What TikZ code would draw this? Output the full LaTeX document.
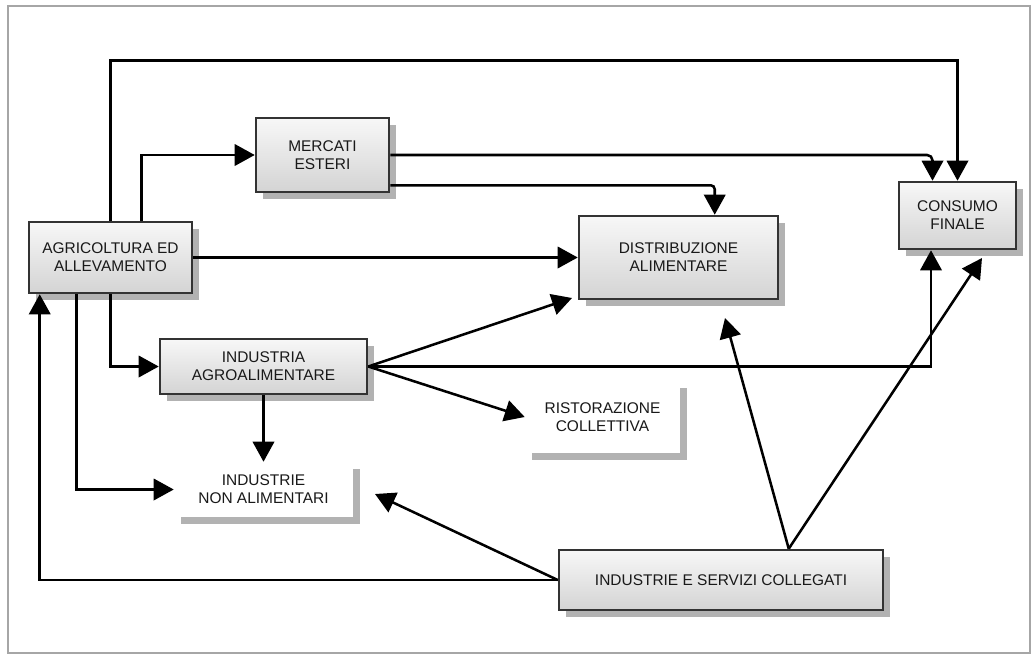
\documentclass[tikz,border=0pt]{standalone}
\usepackage{fontspec}
\setmainfont{Liberation Sans}
\usetikzlibrary{arrows.meta,shadows,calc}
\newcommand\labelfont{\fontsize{11.6}{13.5}\selectfont}
\begin{document}
\begin{tikzpicture}[x=0.75pt,y=-0.75pt,
  shade/.style={drop shadow={shadow xshift=5pt,shadow yshift=-5pt,fill=black!30,opacity=1}},
  box/.style={shade,draw=black!80,line width=1.9pt,top color=black!3,bottom color=black!17,
    inner sep=0pt,align=center,text=black!90,font=\labelfont},
  openbox/.style={shade,fill=white,inner sep=0pt,align=center,text=black!90,font=\labelfont},
  link/.style={line width=1.9pt,black},
  flow/.style={link,-{Triangle[length=15pt,width=16pt]}}]
\useasboundingbox (0,0) rectangle (1036,657);
\draw[black!35,line width=1.5pt] (8,6) rectangle (1030,653);

% blocks
\node[box,minimum width=163*0.75pt,minimum height=71*0.75pt] (agri) at (110.5,257.5) {AGRICOLTURA ED\\ALLEVAMENTO};
\node[box,minimum width=133*0.75pt,minimum height=74*0.75pt] (merc) at (322.5,155) {MERCATI\\ESTERI};
\node[box,minimum width=199*0.75pt,minimum height=83*0.75pt] (dist) at (678.5,257.5) {DISTRIBUZIONE\\ALIMENTARE};
\node[box,minimum width=117*0.75pt,minimum height=67*0.75pt] (cons) at (957.5,215.5) {CONSUMO\\FINALE};
\node[box,minimum width=207*0.75pt,minimum height=55*0.75pt] (agro) at (263.5,366.5) {INDUSTRIA\\AGROALIMENTARE};
\node[openbox,minimum width=179*0.75pt,minimum height=55*0.75pt] (nonal) at (263.5,489.5) {INDUSTRIE\\NON ALIMENTARI};
\node[openbox,minimum width=155*0.75pt,minimum height=72*0.75pt] (rist) at (602.5,417) {RISTORAZIONE\\COLLETTIVA};
\node[box,minimum width=324*0.75pt,minimum height=60*0.75pt] (serv) at (721,580) {INDUSTRIE E SERVIZI COLLEGATI};

% free ends of the slanted arrows
\coordinate (dA) at (572,298);
\coordinate (dB) at (725,318);
\coordinate (cB) at (982,258);
\coordinate (nA) at (375,494);

% connectors
\draw[flow] (agri.north) -- ++(0,-160) -| (cons.north);
\draw[flow] ($(agri.north west)+(114,0)$) |- (merc.west);
\draw[flow,rounded corners=4pt] (merc.east) -| ($(cons.north)+(-25,0)$);
\draw[flow,rounded corners=3pt] ($(merc.south east)+(0,-8)$) -| ($(dist.north west)+(137,0)$);
\draw[flow] (agri.east) -- (dist.west);
\draw[flow] (serv.west) -| ($(agri.south west)+(12,0)$);
\draw[flow] ($(agri.south west)+(49,0)$) |- (nonal.west);
\draw[flow] (agri.south) |- (agro.west);
\draw[flow] (agro.east) -- (dA);
\draw[flow] (agro.east) -| ($(cons.south)+(-26.5,0)$);
\draw[flow] (agro.east) -- (rist.west);
\draw[flow] (agro.south) -- (nonal.north);
\draw[flow] (serv.west) -- (nA);
\draw[flow] ($(serv.north west)+(231,0)$) -- (dB);
\draw[flow] ($(serv.north west)+(231,0)$) -- (cB);
\end{tikzpicture}
\end{document}
